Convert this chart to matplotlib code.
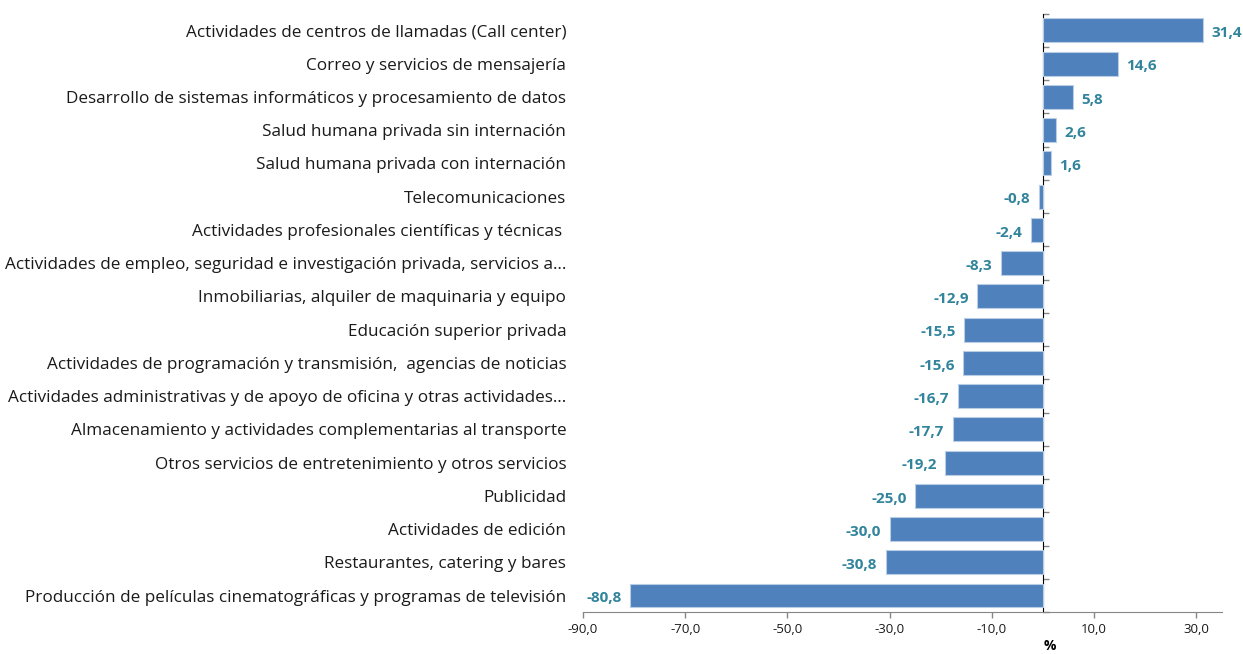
import matplotlib
matplotlib.use("Agg")
import matplotlib.pyplot as plt
import numpy as np

# data, top to bottom
categories = [
    "Actividades de centros de llamadas (Call center)",
    "Correo y servicios de mensajería",
    "Desarrollo de sistemas informáticos y procesamiento de datos",
    "Salud humana privada sin internación",
    "Salud humana privada con internación",
    "Telecomunicaciones",
    "Actividades profesionales científicas y técnicas ",
    "Actividades de empleo, seguridad e investigación privada, servicios a…",
    "Inmobiliarias, alquiler de maquinaria y equipo",
    "Educación superior privada",
    "Actividades de programación y transmisión,  agencias de noticias",
    "Actividades administrativas y de apoyo de oficina y otras actividades…",
    "Almacenamiento y actividades complementarias al transporte",
    "Otros servicios de entretenimiento y otros servicios",
    "Publicidad",
    "Actividades de edición",
    "Restaurantes, catering y bares",
    "Producción de películas cinematográficas y programas de televisión",
]
values = [31.4, 14.6, 5.8, 2.6, 1.6, -0.8, -2.4, -8.3, -12.9, -15.5,
          -15.6, -16.7, -17.7, -19.2, -25.0, -30.0, -30.8, -80.8]
xticks = [-90, -70, -50, -30, -10, 10, 30]

bar_color = "#4F81BD"
label_color = "#31849B"
axis_color = "#868686"

plt.rcParams['font.family'] = ['Open Sans', 'DejaVu Sans']

fig = plt.figure(figsize=(12.43, 6.54), dpi=100)
ax = fig.add_axes([0.469, 0.064, 0.514, 0.915])

xmin, xmax = -90, 35
y = np.arange(len(categories))
ax.barh(y, values, height=0.72, color=bar_color, edgecolor="#B9CDE5", linewidth=0.8)

ax.set_xlim(xmin, xmax)
ax.set_ylim(len(categories) - 0.5, -0.5)

# category labels on the left edge of the plot area
ax.set_yticks(y)
ax.set_yticklabels(categories, fontsize=12.3, color="#1a1a1a")
ax.tick_params(axis="y", length=0, pad=12)

ax.set_xticks(xticks)
ax.set_xticklabels([f"{t:.1f}".replace(".", ",") for t in xticks], fontsize=9.5, color="#1a1a1a")
ax.tick_params(axis="x", direction="out", length=4, color=axis_color, width=1)

for s in ["left", "top", "right"]:
    ax.spines[s].set_visible(False)
ax.spines["bottom"].set_color(axis_color)

# zero axis with ticks between categories
zero_pos = (0 - xmin) / (xmax - xmin)
sec = ax.secondary_yaxis(zero_pos)
sec.set_yticks(np.arange(len(categories) + 1) - 0.5)
sec.set_yticklabels([])
sec.tick_params(axis="y", direction="out", length=4, color=axis_color, width=1)
sec.spines["left"].set_color(axis_color)

for yi, v in zip(y, values):
    txt = f"{v:.1f}".replace(".", ",")
    if v >= 0:
        ax.annotate(txt, (v, yi), xytext=(6, -2), textcoords="offset points",
                    ha="left", va="center", fontsize=11, fontweight="bold", color=label_color)
    else:
        ax.annotate(txt, (v, yi), xytext=(-6, -2), textcoords="offset points",
                    ha="right", va="center", fontsize=11, fontweight="bold", color=label_color)

ax.set_xlabel("%", fontsize=10, fontweight="bold")
ax.xaxis.set_label_coords(0.731, -0.045)
ax.xaxis.label.set_va("top")

fig.savefig("out.png", dpi=100)
